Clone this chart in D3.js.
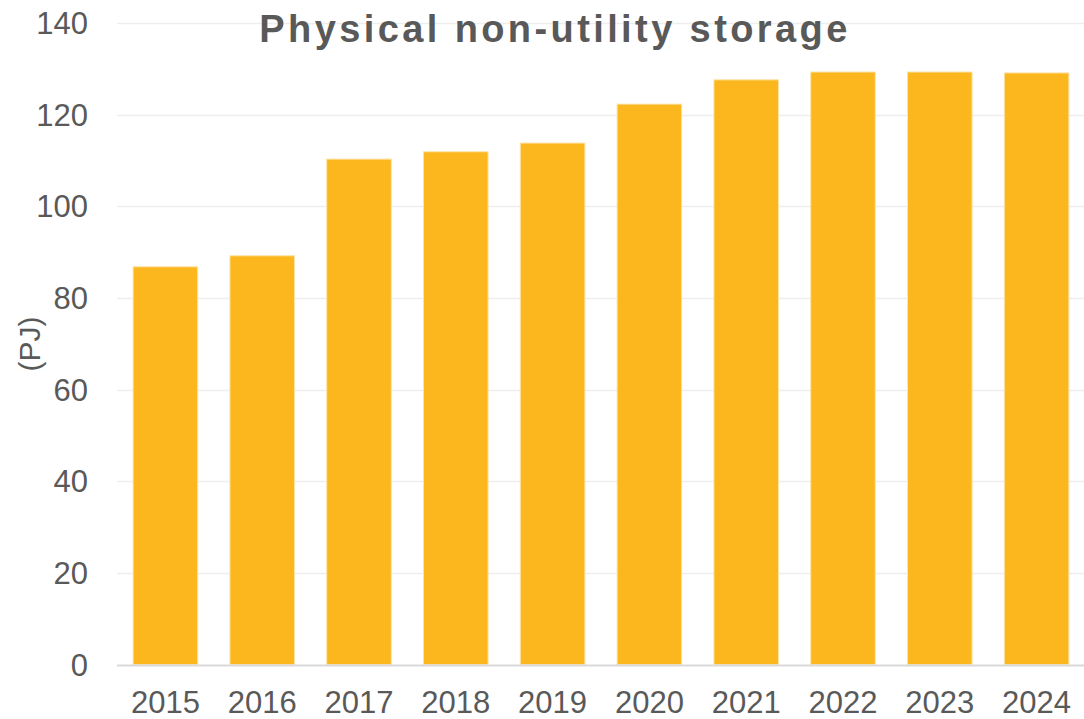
<!DOCTYPE html>
<html>
<head>
<meta charset="utf-8">
<script src="https://cdn.jsdelivr.net/npm/d3@7"></script>
<style>
  body { margin: 0; background: #fff; }
  svg { display: block; font-family: "Liberation Sans", Arial, sans-serif; }
</style>
</head>
<body>
<svg id="chart" width="1084" height="719"></svg>
<script>
const years = ["2015", "2016", "2017", "2018", "2019", "2020", "2021", "2022", "2023", "2024"];
const storage = [86.8, 89.2, 110.3, 111.9, 113.8, 122.3, 127.6, 129.3, 129.3, 129.1];
const yTicks = [0, 20, 40, 60, 80, 100, 120, 140];

const width = 1084, height = 719;
const margin = { top: 23, right: 0, bottom: 54, left: 117 };
const svg = d3.select("#chart");

const x = d3.scaleBand()
    .domain(years)
    .range([margin.left, 1085])
    .paddingInner(0.333)
    .paddingOuter(0.1665);

const y = d3.scaleLinear()
    .domain([0, 140])
    .range([height - margin.bottom - 0.5, margin.top]);

// gridlines
svg.append("g")
    .selectAll("line")
    .data(yTicks.slice(1))
    .join("line")
    .attr("x1", margin.left).attr("x2", width)
    .attr("y1", d => Math.round(y(d)) + 0.5).attr("y2", d => Math.round(y(d)) + 0.5)
    .attr("stroke", "#eeeeee").attr("stroke-width", 1.5);

// bars
svg.append("g")
    .selectAll("rect")
    .data(years.map((yr, i) => ({ yr, v: storage[i] })))
    .join("rect")
    .attr("x", d => x(d.yr))
    .attr("width", x.bandwidth())
    .attr("y", d => y(d.v))
    .attr("height", d => y(0) - y(d.v))
    .attr("fill", "#fdb71e")
    .attr("stroke", "#fde3a6").attr("stroke-width", 1);

// x axis line
svg.append("line")
    .attr("x1", margin.left).attr("x2", width)
    .attr("y1", Math.round(y(0)) + 0.5).attr("y2", Math.round(y(0)) + 0.5)
    .attr("stroke", "#d9d9d9").attr("stroke-width", 2);

// y tick labels
svg.append("g")
    .selectAll("text")
    .data(yTicks)
    .join("text")
    .attr("x", 88)
    .attr("y", d => y(d))
    .attr("dy", "0.36em")
    .attr("text-anchor", "end")
    .attr("fill", "#595959")
    .style("font-size", "31px")
    .text(d => d);

// x tick labels
svg.append("g")
    .selectAll("text")
    .data(years)
    .join("text")
    .attr("x", d => x(d) + x.bandwidth() / 2)
    .attr("y", 713)
    .attr("text-anchor", "middle")
    .attr("fill", "#595959")
    .style("font-size", "31px")
    .text(d => d);

// y axis title
svg.append("text")
    .attr("transform", "translate(40,344) rotate(-90)")
    .attr("text-anchor", "middle")
    .attr("fill", "#595959")
    .style("font-size", "30px")
    .text("(PJ)");

// title
svg.append("text")
    .attr("x", 555)
    .attr("y", 42)
    .attr("text-anchor", "middle")
    .attr("fill", "#595959")
    .style("font-size", "38px")
    .style("font-weight", "bold")
    .style("letter-spacing", "3.4px")
    .text("Physical non-utility storage");
</script>
</body>
</html>
